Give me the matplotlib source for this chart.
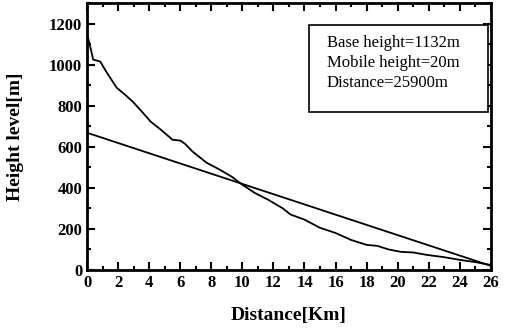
import numpy as np
import matplotlib.pyplot as plt
from matplotlib.ticker import MultipleLocator
from matplotlib.patches import Rectangle

# terrain profile
dist_km = [0, 0.15, 0.4, 0.85, 1.2, 1.9, 2.5, 3.0, 3.6, 4.1, 4.8, 5.5, 6.0, 6.3, 6.8, 7.7,
           8.5, 9.3, 10.0, 10.8, 11.7, 12.6, 13.1, 14.0, 15.0, 16.0, 17.0, 18.0, 18.7,
           19.4, 20.2, 21.0, 21.9, 23.0, 24.0, 25.0, 26.0]
height_m = [1150, 1105, 1024, 1015, 970, 888, 850, 815, 765, 722, 680, 634, 630, 615, 576, 522,
            490, 455, 415, 375, 340, 300, 270, 245, 205, 180, 146, 122, 117,
            100, 88, 85, 73, 62, 49, 38, 24]

# line of sight between the two antennas
los_km = [0, 26]
los_m = [668, 20]

info = ["Base height=1132m", "Mobile height=20m", "Distance=25900m"]

plt.rcParams['font.family'] = ['Liberation Serif', 'DejaVu Serif']

fig = plt.figure(figsize=(5.06, 3.32), dpi=100)
ax = fig.add_axes([0.172, 0.187, 0.798, 0.804])

ax.plot(dist_km, height_m, color='black', lw=1.3)
ax.plot(los_km, los_m, color='black', lw=1.3)

ax.set_xlim(0, 26)
ax.set_ylim(0, 1300)
ax.xaxis.set_major_locator(MultipleLocator(2))
ax.xaxis.set_minor_locator(MultipleLocator(1))
ax.yaxis.set_major_locator(MultipleLocator(200))
ax.yaxis.set_minor_locator(MultipleLocator(100))
ax.tick_params(which='both', direction='in', top=True, right=True, width=1.5, labelsize=12)
ax.tick_params(which='major', length=6)
ax.tick_params(which='minor', length=3)
ax.set_yticks([0, 200, 400, 600, 800, 1000, 1200])
for lab in ax.get_xticklabels() + ax.get_yticklabels():
    lab.set_fontweight('bold')
for s in ax.spines.values():
    s.set_linewidth(2)

ax.set_xlabel("Distance[Km]", fontsize=14, fontweight='bold', labelpad=12)
ax.set_ylabel("Height level[m]", fontsize=14, fontweight='bold', labelpad=18)

ax.add_patch(Rectangle((0.55, 0.592), 0.443, 0.326, transform=ax.transAxes,
                       facecolor='white', edgecolor='black', lw=1.2, zorder=3))
for i, line in enumerate(info):
    ax.text(0.594, 0.85 - i * 0.075, line, transform=ax.transAxes, ha='left', va='center',
            fontsize=12, zorder=4)

fig.savefig("out.png", dpi=100)
